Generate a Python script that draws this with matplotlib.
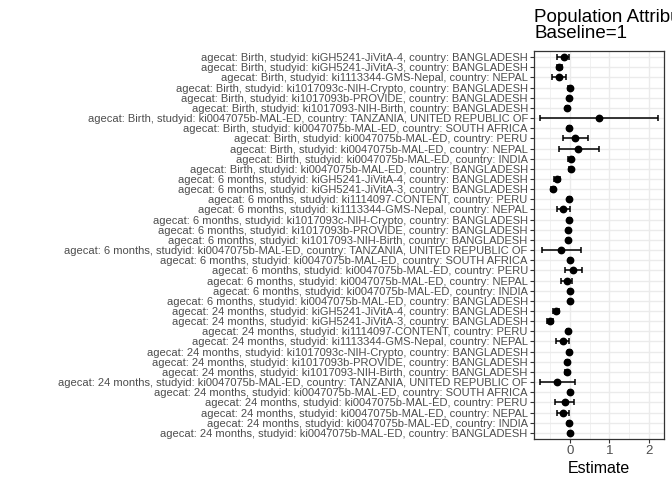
import numpy as np
import matplotlib
matplotlib.use("Agg")
from matplotlib import pyplot as plt

plt.rcParams['font.family'] = ['Liberation Sans', 'DejaVu Sans']

# row labels, top to bottom
agecat = ["Birth"] * 12 + ["6 months"] * 13 + ["24 months"] * 13
studyid = (["kiGH5241-JiVitA-4", "kiGH5241-JiVitA-3", "ki1113344-GMS-Nepal",
            "ki1017093c-NIH-Crypto", "ki1017093b-PROVIDE", "ki1017093-NIH-Birth"]
           + ["ki0047075b-MAL-ED"] * 6
           + ["kiGH5241-JiVitA-4", "kiGH5241-JiVitA-3", "ki1114097-CONTENT",
              "ki1113344-GMS-Nepal", "ki1017093c-NIH-Crypto", "ki1017093b-PROVIDE",
              "ki1017093-NIH-Birth"]
           + ["ki0047075b-MAL-ED"] * 6) + \
          (["kiGH5241-JiVitA-4", "kiGH5241-JiVitA-3", "ki1114097-CONTENT",
            "ki1113344-GMS-Nepal", "ki1017093c-NIH-Crypto", "ki1017093b-PROVIDE",
            "ki1017093-NIH-Birth"]
           + ["ki0047075b-MAL-ED"] * 6)
malcountries = ["TANZANIA, UNITED REPUBLIC OF", "SOUTH AFRICA", "PERU", "NEPAL", "INDIA", "BANGLADESH"]
country = (["BANGLADESH", "BANGLADESH", "NEPAL", "BANGLADESH", "BANGLADESH", "BANGLADESH"]
           + malcountries
           + ["BANGLADESH", "BANGLADESH", "PERU", "NEPAL", "BANGLADESH", "BANGLADESH", "BANGLADESH"]
           + malcountries
           + ["BANGLADESH", "BANGLADESH", "PERU", "NEPAL", "BANGLADESH", "BANGLADESH", "BANGLADESH"]
           + malcountries)

estimate = [-0.15, -0.27, -0.28, 0.00, -0.03, -0.06, 0.74, -0.02, 0.14, 0.22, 0.02, 0.02,
            -0.32, -0.41, -0.01, -0.16, -0.01, -0.05, -0.05, -0.21, 0.00, 0.09, -0.08, 0.00, 0.00,
            -0.34, -0.50, -0.04, -0.17, -0.01, -0.06, -0.08, -0.32, 0.00, -0.13, -0.18, -0.02, 0.00]
ci_lower = [-0.31, -0.33, -0.45, -0.04, -0.05, -0.09, -0.76, -0.05, -0.18, -0.28, -0.04, -0.01,
            -0.40, -0.46, -0.04, -0.33, -0.04, -0.08, -0.08, -0.70, -0.03, -0.13, -0.21, -0.03, -0.03,
            -0.42, -0.58, -0.07, -0.34, -0.04, -0.09, -0.11, -0.76, -0.03, -0.36, -0.33, -0.05, -0.03]
ci_upper = [-0.02, -0.20, -0.10, 0.04, -0.01, -0.03, 2.23, 0.02, 0.47, 0.73, 0.08, 0.05,
            -0.24, -0.36, 0.02, 0.01, 0.02, -0.02, -0.02, 0.28, 0.03, 0.32, 0.06, 0.03, 0.03,
            -0.26, -0.42, -0.01, -0.01, 0.02, -0.03, -0.05, 0.13, 0.03, 0.10, -0.03, 0.01, 0.03]

labels = ["agecat: %s, studyid: %s, country: %s" % (a, s, c)
          for a, s, c in zip(agecat, studyid, country)]

fig = plt.figure(figsize=(6.72, 4.8), dpi=100)
ax = fig.add_axes([534 / 672, 1 - 439 / 480, 130 / 672, 388 / 480])

y = np.arange(len(labels))
est = np.array(estimate)
err = [est - np.array(ci_lower), np.array(ci_upper) - est]
ax.errorbar(est, y, xerr=err, fmt='o', color='black', ms=4.6, elinewidth=1.1,
            capsize=2.2, capthick=1.1, zorder=3)

ax.set_ylim(len(labels) - 0.4, -0.6)
ax.set_xlim(-0.9, 2.375)
ax.set_yticks(y)
ax.set_yticklabels(labels)
ax.set_xticks([0, 1, 2])
ax.set_xticks([-0.5, 0.5, 1.5], minor=True)
ax.grid(True, which='major', color='#EBEBEB', lw=1.0, zorder=0)
ax.grid(True, which='minor', axis='x', color='#EBEBEB', lw=0.5, zorder=0)
ax.set_axisbelow(True)
ax.tick_params(axis='both', which='major', colors='#333333', labelcolor='#4D4D4D',
               length=3, width=0.8, labelsize=8.0, pad=1.5)
ax.tick_params(axis='x', labelsize=9.5)
ax.tick_params(which='minor', length=0)
for s in ax.spines.values():
    s.set_color('#333333')
    s.set_linewidth(0.9)

ax.set_xlabel("Estimate", fontsize=11.5, labelpad=3)
ax.set_title("Population Attributable Difference\nBaseline=1", loc='left',
             fontsize=13.5, pad=9, linespacing=0.95)

fig.savefig("out.png", dpi=100)
